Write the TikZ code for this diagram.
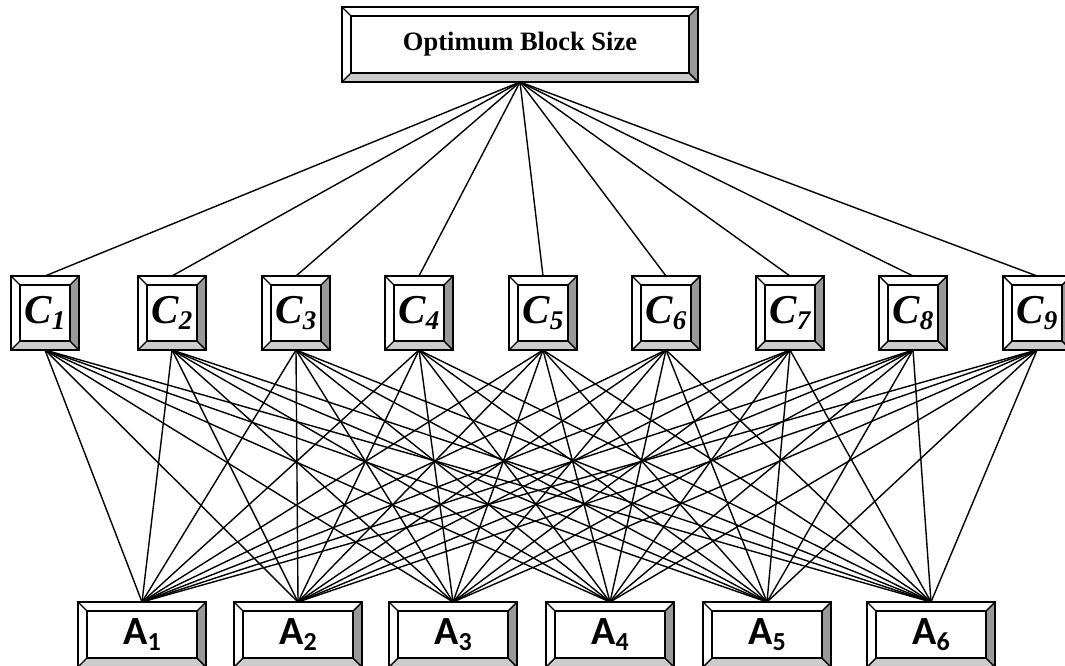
\documentclass[tikz,border=0pt]{standalone}
\usepackage{fontspec}
\setmainfont{Liberation Serif}
\newfontfamily\calib{Carlito}
\usetikzlibrary{calc}

\newlength\bev
\setlength\bev{9pt}

\tikzset{
  bevelbox/.style={draw, line width=1.4pt, fill=white, inner sep=0pt, outer sep=0pt,
    path picture={
      \coordinate (bsw) at (path picture bounding box.south west);
      \coordinate (bse) at (path picture bounding box.south east);
      \coordinate (bnw) at (path picture bounding box.north west);
      \coordinate (bne) at (path picture bounding box.north east);
      % bottom and right faces
      \filldraw[fill=gray!40] (bsw) -- (bse) -- ($(bse)+(-\bev,\bev)$) -- ($(bsw)+(\bev,\bev)$) -- cycle;
      \filldraw[fill=gray!80] (bse) -- (bne) -- ($(bne)+(-\bev,-\bev)$) -- ($(bse)+(-\bev,\bev)$) -- cycle;
      % inner face and corners
      \draw ($(bsw)+(\bev,\bev)$) rectangle ($(bne)+(-\bev,-\bev)$);
      \draw (bnw) -- ++(\bev,-\bev);
    }},
  goal/.style={bevelbox, minimum width=356pt, minimum height=75pt,
    font=\fontsize{26.5}{26.5}\selectfont\bfseries},
  crit/.style={bevelbox, minimum width=68pt, minimum height=74pt,
    font=\fontsize{41}{41}\selectfont\bfseries\itshape},
  alt/.style={bevelbox, minimum width=128pt, minimum height=65pt,
    font=\fontsize{40}{40}\selectfont\calib\bfseries},
  link/.style={line width=1.4pt}
}

\begin{document}
\begin{tikzpicture}[x=1pt,y=-1pt]
        \useasboundingbox (0,0) rectangle (1065,666);

        % Goal
        \node[goal] (goal) at (520,44.5) {Optimum Block Size};

        % Criteria
        \foreach \x [count=\i] in {45,172,296,419,543,666,790,913,1037} {
            \node[crit] (c\i) at (\x,313) {C\raisebox{-0.35ex}{\fontsize{27}{27}\selectfont\i}};
        }

        % Alternatives
        \foreach \x [count=\j] in {142,298,453,610,767,931} {
            \node[alt] (a\j) at (\x,634.5) {A\raisebox{-0.3ex}{\fontsize{26}{26}\selectfont\j}};
        }

        % Goal to criteria
        \foreach \i in {1,...,9} {
            \draw[link] (goal.south) -- (c\i.north);
        }

        % Criteria to alternatives
        \foreach \i in {1,...,9} {
            \foreach \j in {1,...,6} {
                \draw[link] (c\i.south) -- (a\j.north);
            }
        }
\end{tikzpicture}
\end{document}
